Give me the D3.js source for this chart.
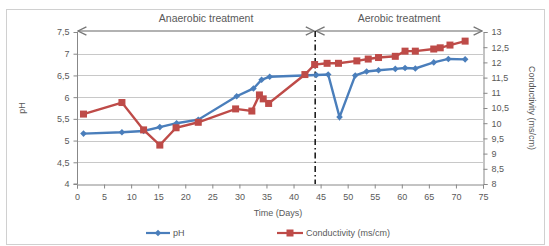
<!DOCTYPE html>
<html><head><meta charset="utf-8">
<script src="https://cdn.jsdelivr.net/npm/d3@7"></script>
<style>body{margin:0;background:#fff}svg{display:block}text{font-family:"Liberation Sans",Arial,sans-serif;fill:#595959}</style>
</head><body><svg id="c" width="549" height="246"></svg>
<script>
const phDays  = [1.2, 8.3, 12.3, 15.3, 18.4, 22.4, 29.5, 32.6, 34.1, 35.6, 44.2, 46.4, 48.5, 51.4, 53.5, 55.7, 58.8, 60.6, 62.5, 65.9, 68.6, 71.7];
const phVals  = [5.16, 5.19, 5.22, 5.31, 5.4, 5.48, 6.02, 6.2, 6.4, 6.47, 6.51, 6.52, 5.54, 6.5, 6.59, 6.62, 6.65, 6.67, 6.66, 6.8, 6.88, 6.87];
const condDays = [1.2, 8.3, 12.3, 15.3, 18.3, 22.4, 29.3, 32.3, 33.7, 34.4, 35.4, 42.1, 43.9, 46.2, 48.3, 51.7, 53.8, 55.7, 58.8, 60.6, 62.5, 65.9, 67.1, 68.9, 71.7];
const condVals = [10.3, 10.68, 9.78, 9.28, 9.85, 10.03, 10.47, 10.4, 10.93, 10.8, 10.65, 11.6, 11.93, 11.97, 11.97, 12.05, 12.11, 12.16, 12.2, 12.37, 12.37, 12.44, 12.48, 12.57, 12.7];
const xTicks = [0,5,10,15,20,25,30,35,40,45,50,55,60,65,70,75];
const phTicks = [4,4.5,5,5.5,6,6.5,7,7.5];
const condTicks = [8,8.5,9,9.5,10,10.5,11,11.5,12,12.5,13];
const phaseSplit = 44;
const phases = [{label:"Anaerobic treatment", from:0, to:44},{label:"Aerobic treatment", from:44, to:75}];
const seriesNames = ["pH","Conductivity (ms/cm)"];

const svg = d3.select("#c");
const L=77, R=483, T=32, B=184;
const x = d3.scaleLinear().domain([0,75]).range([L,R]);
const y = d3.scaleLinear().domain([4,7.5]).range([B,T]);
const y2 = d3.scaleLinear().domain([8,13]).range([B,T]);
const fmt = d => String(d).replace(".", ",");
const blue="#4a7ebb", red="#be4b48";

// frame
svg.append("rect").attr("x",6.5).attr("y",9.5).attr("width",538).attr("height",235).attr("fill","none").attr("stroke","#d0d0d0");

// gridlines
svg.append("g").selectAll("line").data(phTicks.slice(1,-1)).join("line")
  .attr("x1",L).attr("x2",R).attr("y1",d=>Math.round(y(d))+0.5).attr("y2",d=>Math.round(y(d))+0.5)
  .attr("stroke","#c8c8c8");

// axes
const ax = svg.append("g").attr("transform",`translate(0,${B+0.5})`)
  .call(d3.axisBottom(x).tickValues(xTicks).tickSize(4).tickPadding(5).tickFormat(d=>d));
const ay = svg.append("g").attr("transform",`translate(${L+0.5},0)`)
  .call(d3.axisLeft(y).tickValues(phTicks).tickSize(4).tickPadding(4).tickFormat(fmt));
const ay2 = svg.append("g").attr("transform",`translate(${R+0.5},0)`)
  .call(d3.axisRight(y2).tickValues(condTicks).tickSize(4).tickPadding(4).tickFormat(fmt));
[ax,ay,ay2].forEach(g=>{g.selectAll("path,line").attr("stroke","#888");g.selectAll("text").attr("fill","#595959").style("font-size","9px").style("font-family","Liberation Sans, Arial, sans-serif");});
ay.select(".domain").attr("d",`M-4,${B}H0V${T}`);

// phase arrows
const defs = svg.append("defs");
defs.append("marker").attr("id","ah").attr("viewBox","0 0 10 10").attr("refX",9).attr("refY",5)
  .attr("markerWidth",7).attr("markerHeight",7).attr("orient","auto-start-reverse")
  .append("path").attr("d","M1,1L9,5L1,9").attr("fill","none").attr("stroke","#777").attr("stroke-width",1.3);
const ya = T-1;
svg.append("g").selectAll("line").data(phases).join("line")
  .attr("x1",d=>x(d.from)+1).attr("x2",d=>x(d.to)-1).attr("y1",ya).attr("y2",ya)
  .attr("stroke","#999").attr("stroke-width",1.5)
  .attr("marker-start","url(#ah)").attr("marker-end","url(#ah)");
svg.append("g").selectAll("text").data(phases).join("text")
  .attr("x",d=>(x(d.from)+x(d.to))/2 + (d.from===0?10:0)).attr("y",ya-9).attr("text-anchor","middle")
  .style("font-size","10.5px").text(d=>d.label);

// split line
svg.append("line").attr("x1",x(phaseSplit)).attr("x2",x(phaseSplit)).attr("y1",ya).attr("y2",B)
  .attr("stroke","#111").attr("stroke-width",1.5).attr("stroke-dasharray","6,3,1.5,3");

// series
const phData = phDays.map((d,i)=>[d,phVals[i]]);
const cData = condDays.map((d,i)=>[d,condVals[i]]);
svg.append("path").datum(phData).attr("fill","none").attr("stroke",blue).attr("stroke-width",2.4)
  .attr("d",d3.line().x(d=>x(d[0])).y(d=>y(d[1])));
svg.append("path").datum(cData).attr("fill","none").attr("stroke",red).attr("stroke-width",2.4)
  .attr("d",d3.line().x(d=>x(d[0])).y(d=>y2(d[1])));
svg.append("g").selectAll("path").data(phData).join("path")
  .attr("transform",d=>`translate(${x(d[0])},${y(d[1])})`).attr("d","M0,-3.3L3.3,0L0,3.3L-3.3,0Z").attr("fill",blue);
svg.append("g").selectAll("rect").data(cData).join("rect")
  .attr("x",d=>x(d[0])-3.5).attr("y",d=>y2(d[1])-3.5).attr("width",7).attr("height",7).attr("fill",red);

// axis titles
svg.append("text").attr("transform",`translate(25,${(T+B)/2}) rotate(-90)`).attr("text-anchor","middle").style("font-size","9px").text("pH");
svg.append("text").attr("transform",`translate(529,${(T+B)/2}) rotate(90)`).attr("text-anchor","middle").style("font-size","9px").text("Conductivity (ms/cm)");
svg.append("text").attr("x",278).attr("y",216).attr("text-anchor","middle").style("font-size","9px").text("Time (Days)");

// legend
const lg = svg.append("g");
lg.append("line").attr("x1",146).attr("x2",170).attr("y1",233).attr("y2",233).attr("stroke",blue).attr("stroke-width",2.2);
lg.append("path").attr("transform","translate(158,233)").attr("d","M0,-3.3L3.3,0L0,3.3L-3.3,0Z").attr("fill",blue);
lg.append("text").attr("x",173).attr("y",236).style("font-size","9px").text(seriesNames[0]);
lg.append("line").attr("x1",277).attr("x2",303).attr("y1",233).attr("y2",233).attr("stroke",red).attr("stroke-width",2.2);
lg.append("rect").attr("x",286.5).attr("y",229.5).attr("width",7).attr("height",7).attr("fill",red);
lg.append("text").attr("x",306).attr("y",236).style("font-size","9px").text(seriesNames[1]);
</script></body></html>
